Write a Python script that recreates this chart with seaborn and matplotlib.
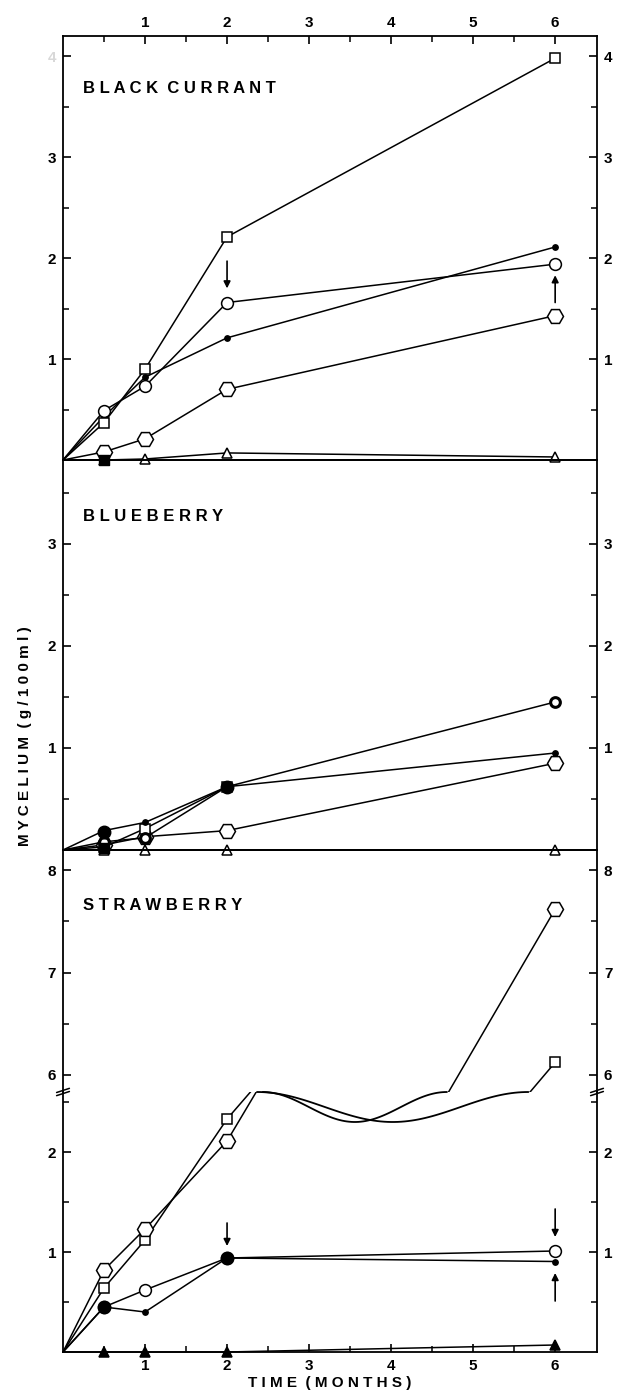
import numpy as np
import matplotlib
matplotlib.use("Agg")
import matplotlib.pyplot as plt
import seaborn as sns
from matplotlib.ticker import FixedLocator

sns.set_theme(style="ticks")
plt.rcParams['font.family'] = ['Liberation Sans', 'DejaVu Sans']
plt.rcParams['font.weight'] = 'bold'
plt.rcParams['text.color'] = 'black'
plt.rcParams['xtick.color'] = 'black'
plt.rcParams['ytick.color'] = 'black'
plt.rcParams['axes.edgecolor'] = 'black'

# ---------------- data ----------------
months = [0, 0.5, 1, 2, 6]

# Black currant
bc_square = [0, 0.37, 0.90, 2.21, 3.98]
bc_dot = [0, 0.43, 0.82, 1.21, 2.11]
bc_circle = [0, 0.49, 0.73, 1.56, 1.94]
bc_hexagon = [0, 0.08, 0.21, 0.70, 1.43]
bc_triangle = [0, 0.0, 0.01, 0.07, 0.03]
bc_fill_months = [0.5]
bc_fill = [0.0]
bc_arrows = [(2, 1.97, 1.70), (6, 1.56, 1.83)]

# Blueberry
bb_dot = [0, 0.19, 0.27, 0.62, 0.95]
bb_circle = [0, 0.08, 0.12, 0.62, 1.45]
bb_square_months = [0, 0.5, 1, 2]
bb_square = [0, 0.03, 0.21, 0.62]
bb_hexagon = [0, 0.05, 0.13, 0.19, 0.85]
bb_triangle = [0, 0.0, 0.0, 0.0, 0.0]
bb_big_months = [0.5, 2]
bb_big = [0.18, 0.62]
bb_fill_months = [0.5]
bb_fill = [0.02]

# Strawberry
sb_hexagon = [0, 0.82, 1.23, 2.11, 7.62]
sb_square = [0, 0.64, 1.12, 2.33, 6.12]
sb_circle = [0, 0.45, 0.62, 0.94, 1.01]
sb_dot = [0, 0.45, 0.40, 0.94, 0.905]
sb_ftriangle = [0, 0.0, 0.0, 0.0, 0.07]
sb_big_months = [0.5, 2]
sb_big = [0.45, 0.94]
sb_arrows = [(2, 1.29, 1.06), (6, 1.43, 1.15), (6, 0.51, 0.79)]

x_ticks = [1, 2, 3, 4, 5, 6]
x_minor = [0.5, 1.5, 2.5, 3.5, 4.5, 5.5]

# ---------------- styles ----------------
STY = {
    'square': dict(marker='s', markersize=7, markerfacecolor='white'),
    'dot': dict(marker='o', markersize=3.8, markerfacecolor='black'),
    'circle': dict(marker='o', markersize=8.5, markerfacecolor='white'),
    'bcircle': dict(marker='o', markersize=7, markerfacecolor='white',
                    markeredgewidth=2.2),
    'hexagon': dict(marker='H', markersize=11.5, markerfacecolor='white'),
    'triangle': dict(marker='^', markersize=6.5, markerfacecolor='white'),
    'ftriangle': dict(marker='^', markersize=6.5, markerfacecolor='black'),
    'fsquare': dict(marker='s', markersize=6.5, markerfacecolor='black'),
    'big': dict(marker='o', markersize=9, markerfacecolor='black'),
}


def series(ax, x, y, kind, lw=1.1, clip=False):
    st = dict(markeredgewidth=1.1)
    st.update(STY[kind])
    sns.lineplot(x=x, y=y, ax=ax, color='black', lw=lw, estimator=None,
                 sort=False, legend=False, markeredgecolor='black',
                 markevery=list(range(1, len(x))), clip_on=clip, **st)


def points(ax, x, y, kind):
    st = STY[kind]
    sns.scatterplot(x=x, y=y, ax=ax, color='black', marker=st['marker'],
                    s=st['markersize'] ** 2, edgecolor='black',
                    linewidth=1.0, legend=False, zorder=5, clip_on=False)


def arrows(ax, arr):
    for x, y0, y1 in arr:
        ax.annotate('', xy=(x, y1), xytext=(x, y0),
                    arrowprops=dict(arrowstyle='-|>', color='black', lw=1.2,
                                    mutation_scale=10, shrinkA=0, shrinkB=0))


def spaced(s):
    return '  '.join(' '.join(w) for w in s.split(' '))


# ---------------- figure ----------------
fig = plt.figure(figsize=(6.21, 13.91), dpi=100)
H = 1391.0
L = 63 / 621
W = (597 - 63) / 621


def ax_px(top, bottom):
    return fig.add_axes([L, (H - bottom) / H, W, (bottom - top) / H])


ax1 = ax_px(36, 460)
ax2 = ax_px(460, 850)
ax3u = ax_px(850, 1092)
ax3l = ax_px(1092, 1352)

# Black currant
series(ax1, months, bc_triangle, 'triangle')
series(ax1, months, bc_hexagon, 'hexagon')
series(ax1, months, bc_dot, 'dot')
series(ax1, months, bc_circle, 'circle')
series(ax1, months, bc_square, 'square')
points(ax1, bc_fill_months, bc_fill, 'fsquare')
arrows(ax1, bc_arrows)

# Blueberry
series(ax2, months, bb_triangle, 'triangle')
series(ax2, months, bb_hexagon, 'hexagon')
series(ax2, bb_square_months, bb_square, 'square')
series(ax2, months, bb_circle, 'bcircle')
series(ax2, months, bb_dot, 'dot')
points(ax2, bb_fill_months, bb_fill, 'fsquare')
points(ax2, bb_big_months, bb_big, 'big')

# Strawberry (broken axis: upper and lower parts)
series(ax3l, months, sb_ftriangle, 'ftriangle')
series(ax3l, months, sb_dot, 'dot')
series(ax3l, months, sb_circle, 'circle')
points(ax3l, sb_big_months, sb_big, 'big')
for ax in (ax3u, ax3l):
    series(ax, months, sb_square, 'square', clip=True)
    series(ax, months, sb_hexagon, 'hexagon', clip=True)
arrows(ax3l, sb_arrows)

# limits
for ax in (ax1, ax2, ax3u, ax3l):
    ax.set_xlim(0, 6.51)
ax1.set_ylim(0, 4.2)
ax2.set_ylim(0, 3.82)
ax3u.set_ylim(5.83, 8.2)
ax3l.set_ylim(0, 2.6)

ymaj = {ax1: [1, 2, 3, 4], ax2: [1, 2, 3], ax3u: [6, 7, 8], ax3l: [1, 2]}
ymin = {ax1: [0.5, 1.5, 2.5, 3.5], ax2: [0.5, 1.5, 2.5, 3.5],
        ax3u: [6.5, 7.5], ax3l: [0.5, 1.5, 2.5]}

for ax in (ax1, ax2, ax3u, ax3l):
    ax.yaxis.set_major_locator(FixedLocator(ymaj[ax]))
    ax.yaxis.set_minor_locator(FixedLocator(ymin[ax]))
    ax.set_yticklabels([str(v) for v in ymaj[ax]])
    ax.xaxis.set_major_locator(FixedLocator(x_ticks))
    ax.xaxis.set_minor_locator(FixedLocator(x_minor))
    ax.tick_params(axis='y', which='both', direction='in', left=True,
                   right=True, labelleft=True, labelright=True)
    ax.tick_params(axis='y', which='major', length=6, width=1.2,
                   labelsize=11, pad=5)
    ax.tick_params(axis='y', which='minor', length=4, width=1.1)
    ax.tick_params(axis='x', which='both', direction='in', top=False,
                   bottom=False, labeltop=False, labelbottom=False)
    ax.set_xlabel('')
    ax.set_ylabel('')
    ax.set_facecolor('none')
    for sp in ax.spines.values():
        sp.set_linewidth(1.3)
        sp.set_color('black')

ax1.tick_params(axis='x', which='both', top=True, labeltop=True)
ax1.tick_params(axis='x', which='major', length=6, width=1.2,
                labelsize=11, pad=4)
ax1.tick_params(axis='x', which='minor', length=4, width=1.1)
ax3l.tick_params(axis='x', which='both', bottom=True, labelbottom=True)
ax3l.tick_params(axis='x', which='major', length=6, width=1.2,
                 labelsize=11, pad=5)
ax3l.tick_params(axis='x', which='minor', length=4, width=1.1)
ax1.set_xticklabels([str(v) for v in x_ticks])
ax3l.set_xticklabels([str(v) for v in x_ticks])

for ax in (ax1, ax2, ax3u, ax3l):
    for lab in ax.get_yticklabels(which='both') + ax.get_xticklabels():
        lab.set_fontweight('bold')
        lab.set_color('black')

# faint left "4" in the top panel
for t in ax1.yaxis.get_major_ticks():
    if t.label1.get_text() == '4':
        t.label1.set_color('#d8d8d8')

ax3u.spines['bottom'].set_visible(False)
ax3l.spines['top'].set_visible(False)

# wavy break lines between the two strawberry parts
lo_top = ax3l.get_ylim()[1]
up_bot = ax3u.get_ylim()[0]


def crossing(xs, ys, level):
    for i in range(len(xs) - 1):
        if (ys[i] - level) * (ys[i + 1] - level) < 0:
            return xs[i] + (level - ys[i]) / (ys[i + 1] - ys[i]) * (xs[i + 1] - xs[i])
    return None


for ys in (sb_hexagon, sb_square):
    x0 = crossing(months, ys, lo_top)
    x1 = crossing(months, ys, up_bot)
    t = np.linspace(0, 1, 80)
    xw = x0 + 0.08 + t * (x1 - x0 - 0.1)
    yw = lo_top - 0.3 * np.sin(np.pi * t) ** 2
    ax3l.plot(xw, yw, color='black', lw=1.3, clip_on=False)

# break marks on the spines
for xa in (0.0, 1.0):
    for dy in (-0.006, 0.006):
        ax3l.plot([xa - 0.012, xa + 0.012], [1 + dy - 0.008, 1 + dy + 0.008],
                  transform=ax3l.transAxes, color='black', lw=1.1,
                  clip_on=False)

# panel titles
ax1.text(0.24, 3.68, spaced('BLACK CURRANT'), fontsize=12, fontweight='bold',
         va='center', ha='left')
ax2.text(0.24, 3.27, spaced('BLUEBERRY'), fontsize=12, fontweight='bold',
         va='center', ha='left')
ax3u.text(0.24, 7.66, spaced('STRAWBERRY'), fontsize=12, fontweight='bold',
          va='center', ha='left')

# axis labels
fig.text(25 / 621, 1 - 736 / H, spaced('MYCELIUM (g/100ml)'), rotation=90,
         fontsize=11, fontweight='bold', ha='center', va='center')
fig.text(330 / 621, 1 - 1383 / H, spaced('TIME (MONTHS)'), fontsize=11,
         fontweight='bold', ha='center', va='center')

fig.savefig('out.png', dpi=100, facecolor='white')
